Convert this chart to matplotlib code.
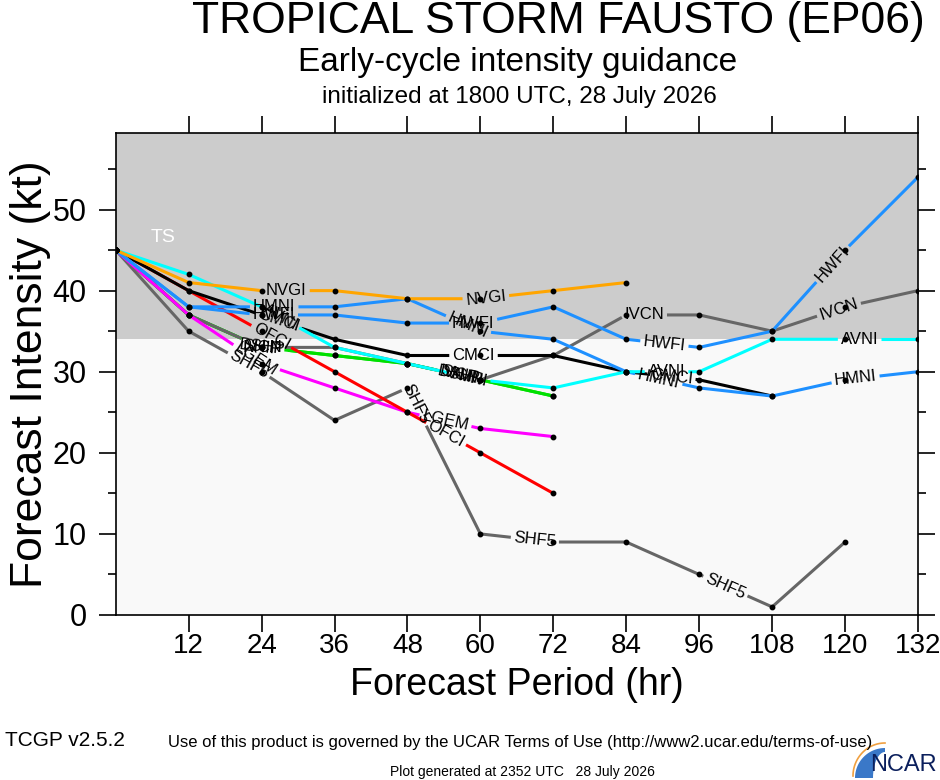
import numpy as np
import matplotlib
matplotlib.use('Agg')
import matplotlib.pyplot as plt
from matplotlib.font_manager import FontProperties
from matplotlib.patches import Polygon

plt.rcParams['font.family'] = ['Liberation Sans', 'DejaVu Sans']

# forecast hours and intensities (kt) per model
hours = [0, 12, 24, 36, 48, 60, 72, 84, 96, 108, 120, 132]

ship = [45, 37, 33, 32, 31, 29, 27]
dshp = [45, 37, 33, 32, 31, 29, 27]
ivcn = [45, 37, 33, 33, 31, 29, 32, 37, 37, 35, 38, 40]
shf5 = [45, 35, 30, 24, 28, 10, 9, 9, 5, 1, 9]
lgem = [45, 37, 31, 28, 25, 23, 22]
ofci = [45, 40, 35, 30, 25, 20, 15]
cmci = [45, 40, 37, 34, 32, 32, 32, 30, 29, 27]
hmni = [45, 38, 38, 38, 39, 35, 34, 30, 28, 27, 29, 30]
hwfi = [45, 38, 37, 37, 36, 36, 38, 34, 33, 35, 45, 54]
avni = [45, 42, 38, 33, 31, 29, 28, 30, 30, 34, 34, 34]
nvgi = [45, 41, 40, 40, 39, 39, 40, 41]

models = [
    ('SHIP', ship, '#00e000'),
    ('DSHP', dshp, '#00e000'),
    ('IVCN', ivcn, '#666666'),
    ('SHF5', shf5, '#666666'),
    ('LGEM', lgem, '#ff00ff'),
    ('OFCI', ofci, '#ff0000'),
    ('CMCI', cmci, '#000000'),
    ('HMNI', hmni, '#1e90ff'),
    ('HWFI', hwfi, '#1e90ff'),
    ('AVNI', avni, '#00ffff'),
    ('NVGI', nvgi, '#ffa500'),
]

ts_threshold = 34
ymax = max(hwfi) * 1.1

W, H = 940, 780
fig = plt.figure(figsize=(W / 100, H / 100), dpi=100)
ax = fig.add_axes([115.7 / W, 1 - 615 / H, (918 - 115.7) / W, (615 - 133.3) / H])
ax.set_facecolor('#f9f9f9')
ax.axhspan(ts_threshold, ymax, color='#cccccc', zorder=0, lw=0)
ax.set_xlim(0, 132)
ax.set_ylim(0, ymax)
ax.text(7.8, 46.6, 'TS', color='white', fontsize=14, ha='center', va='center')

ax.set_xticks(hours[1:])
ax.set_yticks(range(0, 51, 10))
ax.set_yticks(range(5, 56, 10), minor=True)
ax.tick_params(axis='both', which='both', direction='out', width=1.2, top=True, right=True)
ax.tick_params(axis='both', which='major', length=12)
ax.tick_params(axis='y', which='minor', length=6)
ax.tick_params(axis='x', pad=1, labelsize=20)
ax.tick_params(axis='y', pad=9, labelsize=22)
for sp in ax.spines.values():
    sp.set_linewidth(1.2)

ax.set_xlabel('Forecast Period (hr)', fontsize=27, labelpad=6)
ax.set_ylabel('Forecast Intensity (kt)', fontsize=32, labelpad=1)

# line labels: placed along each polyline (display space) with a gap in the line
label_font = FontProperties(family=['Liberation Sans', 'DejaVu Sans'], size=12)
renderer = fig.canvas.get_renderer()
label_start, label_step, gap_pad = 178, 200, 3
inv = ax.transData.inverted()

for z, (name, vals, color) in enumerate(models):
    x = np.array(hours[:len(vals)], dtype=float)
    y = np.array(vals, dtype=float)
    pts = ax.transData.transform(np.column_stack([x, y]))
    seglen = np.hypot(*np.diff(pts, axis=0).T)
    cum = np.concatenate([[0], np.cumsum(seglen)])
    total = cum[-1]

    def at(s):
        i = min(np.searchsorted(cum, s, side='right') - 1, len(seglen) - 1)
        f = (s - cum[i]) / seglen[i]
        return pts[i] + f * (pts[i + 1] - pts[i]), i

    tw, th, _ = renderer.get_text_width_height_descent(name, label_font, ismath=False)
    cuts = []
    for s in np.arange(label_start, total, label_step):
        p, i = at(s)
        d = pts[i + 1] - pts[i]
        ang = np.degrees(np.arctan2(d[1], d[0]))
        px, py = inv.transform(p)
        ax.text(px, py, name, fontproperties=label_font, rotation=ang,
                rotation_mode='anchor', ha='center', va='center', zorder=20 + z)
        cuts.append((s - tw / 2 - gap_pad, s + tw / 2 + gap_pad))

    # visible pieces of the line outside label gaps
    pieces, a = [], 0.0
    for c0, c1 in cuts:
        pieces.append((a, max(c0, a)))
        a = c1
    pieces.append((a, total))
    for s0, s1 in pieces:
        if s1 <= s0:
            continue
        seg = [at(s0)[0]]
        seg += [pts[k] for k in range(len(cum)) if s0 < cum[k] < s1]
        seg.append(at(min(s1, total))[0])
        d = inv.transform(np.array(seg))
        ax.plot(d[:, 0], d[:, 1], color=color, lw=2.2, solid_capstyle='butt', zorder=2 + z * 0.01)
    ax.plot(x, y, 'o', color='black', ms=3.2, zorder=15)

fig.text(558 / W, 1 - 21 / H, 'TROPICAL STORM FAUSTO (EP06)', fontsize=32, ha='center', va='center')
fig.text(518 / W, 1 - 62 / H, 'Early-cycle intensity guidance', fontsize=24, ha='center', va='center')
fig.text(519 / W, 1 - 97 / H, 'initialized at 1800 UTC, 28 July 2026', fontsize=17.5, ha='center', va='center')

fig.text(520 / W, 1 - 743 / H,
         'Use of this product is governed by the UCAR Terms of Use (http://www2.ucar.edu/terms-of-use)',
         fontsize=12, ha='center', va='center')
fig.text(5 / W, 1 - 741 / H, 'TCGP v2.5.2', fontsize=15, ha='left', va='center')
fig.text(522 / W, 1 - 772 / H, 'Plot generated at 2352 UTC   28 July 2026',
         fontsize=10, ha='center', va='center')

# NCAR logo: swoosh plus wordmark
t = np.linspace(0, np.pi / 2, 30)
outer = np.column_stack([885 - 30 * np.cos(t), 778 - 30 * np.sin(t)])
inner = np.column_stack([885 - 12 * np.cos(t[::-1]), 778 - 26 * np.sin(t[::-1])])
sw = np.vstack([outer, inner])
fig.patches.append(Polygon(np.column_stack([sw[:, 0] / W, 1 - sw[:, 1] / H]),
                           closed=True, transform=fig.transFigure, facecolor='#3a78c8',
                           edgecolor='none'))
arc = np.column_stack([885 - 32 * np.cos(t), 776 - 33 * np.sin(t)])
fig.lines.append(plt.Line2D(arc[:, 0] / W, 1 - arc[:, 1] / H, transform=fig.transFigure,
                            color='#f0a040', lw=1.2))
fig.text(937 / W, 1 - 765 / H, 'NCAR', fontsize=17, ha='right', va='center', color='#0b1f5c')

fig.savefig('out.png', dpi=100)
